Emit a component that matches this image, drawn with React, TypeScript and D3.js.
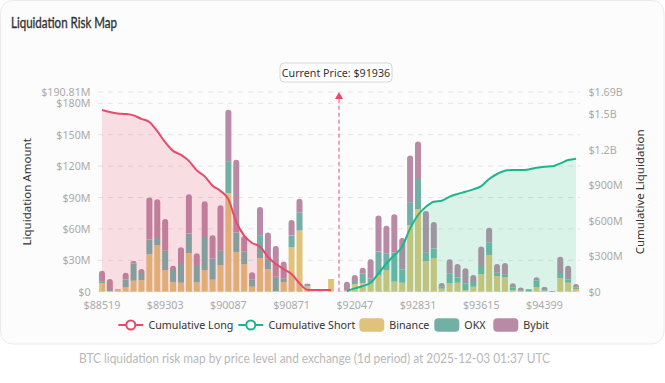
import React from "react";
import * as d3 from "d3";

const categories: string[] = [
  "88519","88617","88715","88813","88911","89009","89107","89205","89303","89401",
  "89499","89597","89695","89793","89891","89989","90087","90185","90283","90381",
  "90479","90577","90675","90773","90871","90969","91067","91165","91263","91361",
  "91936",
  "91949","92047","92145","92243","92341","92439","92537","92635","92733","92831",
  "92929","93027","93125","93223","93321","93419","93517","93615","93713","93811",
  "93909","94007","94105","94203","94301","94399","94497","94595","94693","94791",
];

// $M per price level
const binance: number[] = [
  8.3, 0.6, 2.0, 4.1, 10.5, 11.2, 36, 44.3, 20.7, 9.3,
  8.6, 37, 8.9, 20.7, 11.5, 25.2, 94.1, 38, 26.2, 4.8,
  32, 21.4, 0.5, 9.3, 42.4, 58.4, 5, 0, 0, 12.1,
  0,
  1, 7, 8, 8.6, 16, 20.7, 9.6, 8.6, 63.5, 78.8,
  29.3, 31.9, 2.9, 8, 8.6, 1.6, 4.8, 16.9, 35.1, 15,
  13.7, 1.6, 0.6, 0.3, 4.5, 1, 0, 13.1, 8.6, 2.6,
];
const okx: number[] = [
  1.3, 1.0, 0.3, 7.7, 16.6, 6.7, 14, 7, 18.5, 12.4,
  17.9, 18.5, 16.6, 31.6, 20.4, 14, 30.6, 18.5, 12.4, 7,
  22, 10.2, 13.7, 3.5, 11.2, 17.5, 1.5, 0, 0, 0,
  0,
  0.5, 3.2, 9.6, 4.1, 22.3, 16, 27.8, 12.8, 22, 29,
  8, 9.3, 1.9, 9.6, 5.1, 6.4, 4.5, 7.7, 12.1, 3.2,
  2.6, 2.6, 0.3, 2, 6.4, 1.6, 0, 4.8, 3.2, 1.6,
];
const bybit: number[] = [
  10.5, 10.5, 0.3, 6.4, 2.2, 3.8, 40, 37, 30.3, 3.2,
  16, 37.6, 11.2, 34.1, 22, 43.4, 49.1, 69.5, 14.7, 6.7,
  27, 24.9, 29.4, 16, 15, 12.8, 1, 0, 0, 0,
  0,
  8, 5.7, 5.4, 18.2, 34.5, 26.2, 36.7, 30, 44.7, 35.7,
  39.9, 25.5, 3.5, 13.4, 12.8, 14.4, 6.7, 18.5, 14, 8.3,
  11.2, 3.8, 3.2, 0.3, 2.9, 1.9, 0.6, 15.6, 13.1, 3.2,
];

// cumulative series ($M, right axis)
const cumLong: number[] = [
  1537, 1521, 1509, 1504, 1492, 1462, 1436, 1358, 1265, 1192,
  1158, 1107, 1027, 976, 897, 853, 783, 590, 475, 412,
  383, 296, 234, 192, 150, 71, 17, 14, 14, 14,
];
const cumShort: number[] = [
  6, 28, 48, 76, 155, 240, 310, 381, 536, 649,
  719, 762, 770, 804, 827, 846, 866, 894, 954, 996,
  1024, 1030, 1030, 1035, 1049, 1058, 1061, 1086, 1114, 1126,
];

const leftTicks: number[] = [0, 30, 60, 90, 120, 150, 180, 190.81];
const rightTicks: number[] = [0, 300, 600, 900, 1200, 1500, 1690];
const currentPrice = "91936";
const exchanges = ["Binance", "OKX", "Bybit"];

const W = 665, H = 383;
const L = 98, R = 580, T = 92, B = 291.7;
const FONT = "'Noto Sans', 'Open Sans', sans-serif";
const C_BIN = "#e0c27a", C_OKX = "#72b0a6", C_BYB = "#b88aa5";
const C_LONG = "#e84a6c", C_SHORT = "#1db58f";

function fmtLeft(v: number) { return v === 0 ? "$0" : `$${v}M`; }
function fmtRight(v: number) {
  if (v === 0) return "$0";
  if (v >= 1000) return `$${+(v / 1000).toFixed(2)}B`;
  return `$${v}M`;
}

function topRounded(x: number, y: number, w: number, h: number, r: number) {
  const rr = Math.min(r, h, w / 2);
  return `M${x},${y + h}V${y + rr}Q${x},${y} ${x + rr},${y}H${x + w - rr}Q${x + w},${y} ${x + w},${y + rr}V${y + h}Z`;
}

export default function App() {
  const x = d3.scaleBand<string>().domain(categories).range([L, R]).padding(0);
  const bw = x.bandwidth();
  const barW = bw * 0.76;
  const cx = (i: number) => (x(categories[i]) as number) + bw / 2;
  const yL = d3.scaleLinear().domain([0, 190.81]).range([B, T]);
  const yR = d3.scaleLinear().domain([0, 1690]).range([B, T]);

  const rows = categories.map((c, i) => ({ c, Binance: binance[i], OKX: okx[i], Bybit: bybit[i] }));
  const stack = d3.stack<any>().keys(exchanges)(rows);
  const colors: Record<string, string> = { Binance: C_BIN, OKX: C_OKX, Bybit: C_BYB };

  const longIdx = cumLong.map((_, i) => i);
  const shortStart = categories.indexOf(currentPrice) + 1;
  const shortIdx = cumShort.map((_, i) => shortStart + i);

  const areaLong = d3.area<number>().x((i) => cx(i)).y0(B).y1((i) => yR(cumLong[i])).curve(d3.curveMonotoneX);
  const lineLong = d3.line<number>().x((i) => cx(i)).y((i) => yR(cumLong[i])).curve(d3.curveMonotoneX);
  const areaShort = d3.area<number>().x((i) => cx(i)).y0(B).y1((i) => yR(cumShort[i - shortStart])).curve(d3.curveMonotoneX);
  const lineShort = d3.line<number>().x((i) => cx(i)).y((i) => yR(cumShort[i - shortStart])).curve(d3.curveMonotoneX);

  const cpIdx = categories.indexOf(currentPrice);
  const cpX = cx(cpIdx);

  return (
    <svg width={W} height={H} style={{ position: "absolute", left: 0, top: 0, display: "block" }} fontFamily={FONT}>
      <rect x={0} y={0} width={W} height={H} fill="#ffffff" />
      <rect x={0.5} y={0.5} width={W - 1.5} height={343.5} rx={12} fill="#fcfcfc" stroke="#ebebeb" />
      <text x={11} y={27.5} fontFamily="Lato, sans-serif" fontWeight={400} fontSize={15} fill="#333" stroke="#333" strokeWidth={0.35} textLength={106} lengthAdjust="spacingAndGlyphs">Liquidation Risk Map</text>

      {/* grid */}
      {leftTicks.map((t) => (
        <line key={t} x1={L} x2={R} y1={yL(t)} y2={yL(t)} stroke="#e4e4e4" strokeDasharray="5,5" />
      ))}

      {/* bars */}
      {stack.map((s) => (
        <g key={s.key} fill={colors[s.key]}>
          {s.map((d, i) => {
            const y0 = yL(d[0]), y1 = yL(d[1]);
            const h = y0 - y1;
            if (h <= 0.05) return null;
            const bx = cx(i) - barW / 2;
            if (s.key === "Bybit") return <path key={i} d={topRounded(bx, y1, barW, h, 3)} />;
            return <rect key={i} x={bx} y={y1} width={barW} height={h} />;
          })}
        </g>
      ))}

      {/* areas + lines */}
      <path d={areaLong(longIdx) || ""} fill={C_LONG} fillOpacity={0.17} />
      <path d={areaShort(shortIdx) || ""} fill="#2ecc8c" fillOpacity={0.17} />
      <path d={lineLong(longIdx) || ""} fill="none" stroke={C_LONG} strokeWidth={2} />
      <path d={lineShort(shortIdx) || ""} fill="none" stroke={C_SHORT} strokeWidth={2} />

      {/* current price marker */}
      <line x1={cpX} x2={cpX} y1={B} y2={T + 6} stroke={C_LONG} strokeDasharray="4,3" strokeWidth={1} />
      <path d={`M${cpX},${T}L${cpX + 4},${T + 7}L${cpX - 4},${T + 7}Z`} fill={C_LONG} />
      <rect x={cpX - 59} y={63} width={112} height={19} rx={4} fill="#fff" stroke="#d6d6d6" />
      <text x={cpX - 3} y={72.5} textAnchor="middle" dominantBaseline="central" fontSize={10.7} fill="#333">Current Price: ${currentPrice}</text>

      {/* axes */}
      {leftTicks.map((t) => (
        <text key={t} x={L - 7.5} y={yL(t)} textAnchor="end" dominantBaseline="central" fontSize={10.7} fill="#aaa">{fmtLeft(t)}</text>
      ))}
      {rightTicks.map((t) => (
        <text key={t} x={R + 8.5} y={yR(t)} textAnchor="start" dominantBaseline="central" fontSize={10.7} fill="#aaa">{fmtRight(t)}</text>
      ))}
      {categories.map((c, i) => (i % 8 === 0 ? (
        <text key={c} x={cx(i)} y={305} textAnchor="middle" dominantBaseline="central" fontSize={10.7} fill="#aaa">${c}</text>
      ) : null))}

      <text transform={`translate(26.7,${(T + B) / 2}) rotate(-90)`} textAnchor="middle" dominantBaseline="central" fontSize={11.5} fill="#333">Liquidation Amount</text>
      <text transform={`translate(639.5,${(T + B) / 2}) rotate(-90)`} textAnchor="middle" dominantBaseline="central" fontSize={11.5} fill="#333">Cumulative Liquidation</text>

      {/* legend */}
      <g fontSize={10.7} fill="#333">
        <line x1={118.3} x2={143.3} y1={325} y2={325} stroke={C_LONG} strokeWidth={2} />
        <circle cx={130.8} cy={325} r={4.5} fill="#fff" stroke={C_LONG} strokeWidth={2} />
        <text x={148.5} y={325} dominantBaseline="central">Cumulative Long</text>
        <line x1={238.3} x2={263.3} y1={325} y2={325} stroke={C_SHORT} strokeWidth={2} />
        <circle cx={250.8} cy={325} r={4.5} fill="#fff" stroke={C_SHORT} strokeWidth={2} />
        <text x={268.5} y={325} dominantBaseline="central">Cumulative Short</text>
        <rect x={359.3} y={318.3} width={25} height={13.5} rx={4} fill={C_BIN} />
        <text x={389.3} y={325} dominantBaseline="central">{exchanges[0]}</text>
        <rect x={434.3} y={318.3} width={25} height={13.5} rx={4} fill={C_OKX} />
        <text x={464.3} y={325} dominantBaseline="central">{exchanges[1]}</text>
        <rect x={493.3} y={318.3} width={25} height={13.5} rx={4} fill={C_BYB} />
        <text x={523.3} y={325} dominantBaseline="central">{exchanges[2]}</text>
      </g>

      <text x={79} y={363.3} fontFamily="Lato, sans-serif" fontSize={14} fill="#b8b8b8" textLength={471} lengthAdjust="spacingAndGlyphs">BTC liquidation risk map by price level and exchange (1d period) at 2025-12-03 01:37 UTC</text>
    </svg>
  );
}
